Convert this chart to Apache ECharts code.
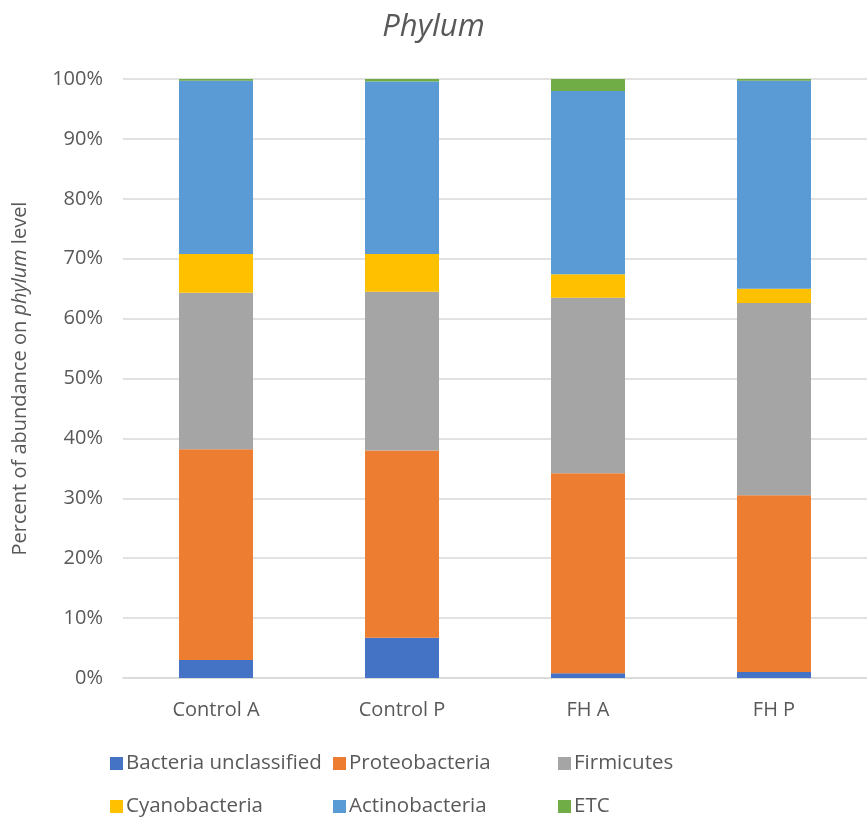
<!DOCTYPE html>
<html>
<head>
<meta charset="utf-8">
<script src="https://cdn.jsdelivr.net/npm/echarts@6/dist/echarts.min.js"></script>
<style>html,body{margin:0;padding:0;background:#fff}#c{width:867px;height:819px}</style>
</head>
<body>
<div id="c"></div>
<script>
const categories = ['Control A', 'Control P', 'FH A', 'FH P'];
const seriesNames = ['Bacteria unclassified', 'Proteobacteria', 'Firmicutes', 'Cyanobacteria', 'Actinobacteria', 'ETC'];
const bacteriaUnclassified = [3.0, 6.7, 0.8, 1.0];
const proteobacteria = [35.2, 31.3, 33.4, 29.5];
const firmicutes = [26.1, 26.5, 29.3, 32.1];
const cyanobacteria = [6.5, 6.3, 3.9, 2.4];
const actinobacteria = [28.9, 28.8, 30.6, 34.7];
const etc = [0.3, 0.4, 2.0, 0.3];
const yTicks = [0, 10, 20, 30, 40, 50, 60, 70, 80, 90, 100];

const values = [bacteriaUnclassified, proteobacteria, firmicutes, cyanobacteria, actinobacteria, etc];
const colors = ['#4472C4', '#ED7D31', '#A5A5A5', '#FFC000', '#5B9BD5', '#70AD47'];
const FONT = 'Open Sans';
const legendPos = [[105, 748], [328, 748], [553, 748], [105, 791], [328, 791], [553, 791]];

const chart = echarts.init(document.getElementById('c'), null, {renderer: 'canvas'});
chart.setOption({
  animation: false,
  textStyle: {fontFamily: FONT},
  title: {
    text: 'Phylum', left: 'center', top: 7,
    textStyle: {fontFamily: FONT, fontSize: 31, fontStyle: 'italic', fontWeight: 'normal', color: '#595959'}
  },
  legend: seriesNames.map((n, i) => ({
    data: [n], left: legendPos[i][0], top: legendPos[i][1],
    itemWidth: 13, itemHeight: 13, itemGap: 0,
    icon: 'rect',
    textStyle: {fontFamily: FONT, fontSize: 20.5, color: '#595959', padding: [0, 0, 0, -2]}
  })),
  grid: {left: 123, top: 79, bottom: 141, width: 751, containLabel: false},
  xAxis: {
    type: 'category', data: categories,
    axisLine: {lineStyle: {color: '#d9d9d9', width: 1.5}},
    axisTick: {show: false},
    axisLabel: {fontFamily: FONT, fontSize: 20, color: '#595959', margin: 22}
  },
  yAxis: {
    type: 'value', min: yTicks[0], max: yTicks[yTicks.length - 1], interval: 10,
    name: '{a|Percent of abundance on }{b|phylum}{a| level}',
    nameLocation: 'middle', nameGap: 93, nameRotate: 90,
    nameTextStyle: {
      rich: {
        a: {fontFamily: FONT, fontSize: 20, color: '#595959'},
        b: {fontFamily: FONT, fontSize: 20, color: '#595959', fontStyle: 'italic'}
      }
    },
    axisLine: {show: false},
    axisTick: {show: false},
    splitLine: {lineStyle: {color: '#d9d9d9', width: 1.5}},
    axisLabel: {fontFamily: FONT, fontSize: 20, color: '#595959', margin: 20, formatter: v => v + '%'}
  },
  series: seriesNames.map((n, i) => ({
    name: n, type: 'bar', stack: 'total', data: values[i], barWidth: 74,
    itemStyle: {color: colors[i]}
  }))
});
</script>
</body>
</html>
